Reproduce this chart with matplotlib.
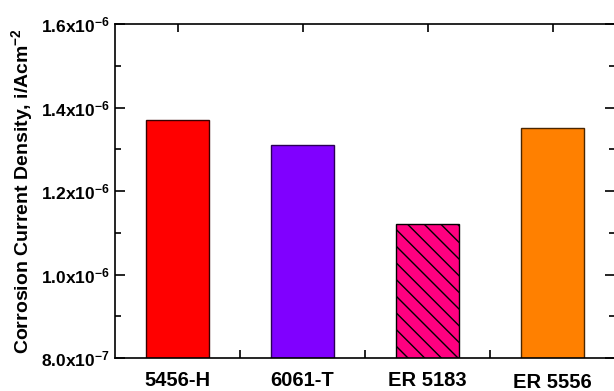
import numpy as np
import matplotlib
matplotlib.use("Agg")
import matplotlib.pyplot as plt
import matplotlib.transforms as mtransforms
from matplotlib.ticker import MultipleLocator, FixedLocator

# 数据
alloys = ["5456-H", "6061-T", "ER 5183", "ER 5556"]
icorr = [1.37e-6, 1.31e-6, 1.12e-6, 1.35e-6]
ytick_vals = [8.0e-7, 1.0e-6, 1.2e-6, 1.4e-6, 1.6e-6]
ytick_labels = [r"8.0x10$^{-7}$", r"1.0x10$^{-6}$", r"1.2x10$^{-6}$",
                r"1.4x10$^{-6}$", r"1.6x10$^{-6}$"]

face = ["#ff0000", "#8000ff", "#ff0080", "#ff8000"]
edge = ["#3a0000", "#2a0055", "#000000", "#4a2600"]
hatch = [None, None, "\\\\", None]

plt.rcParams["font.family"] = ["Liberation Sans", "DejaVu Sans"]
plt.rcParams["font.weight"] = "bold"
plt.rcParams["mathtext.fontset"] = "custom"
plt.rcParams["mathtext.rm"] = "Liberation Sans:bold"
plt.rcParams["mathtext.bf"] = "Liberation Sans:bold"
plt.rcParams["mathtext.default"] = "bf"
plt.rcParams["hatch.linewidth"] = 1.0

fig = plt.figure(figsize=(6.14, 3.91), dpi=100)
ax = fig.add_axes([115 / 614, 33 / 391, 500 / 614, 334 / 391])

x = np.arange(1, len(alloys) + 1)
for i in range(len(alloys)):
    ax.bar(x[i], icorr[i], width=0.5, color=face[i], edgecolor=edge[i],
           linewidth=1.0, hatch=hatch[i], zorder=2)

ax.set_xlim(0.5, 4.5)
ax.set_ylim(8.0e-7, 1.6e-6)

ax.set_xticks(x)
ax.set_xticklabels(alloys, fontsize=14.5, fontweight="bold")
ax.xaxis.set_minor_locator(FixedLocator([1.5, 2.5, 3.5]))
ax.set_yticks(ytick_vals)
ax.set_yticklabels(ytick_labels, fontsize=12.5)
ax.yaxis.set_minor_locator(MultipleLocator(1.0e-7))

ax.tick_params(axis="x", which="major", direction="in", length=6, width=1.2,
               top=True, bottom=True, pad=9)
ax.tick_params(axis="x", which="minor", direction="in", length=6, width=1.2,
               top=False, bottom=True)
ax.tick_params(axis="y", which="major", direction="in", length=7, width=1.2,
               left=True, right=True, pad=4)
ax.tick_params(axis="y", which="minor", direction="in", length=4, width=1.2,
               left=True, right=True)

# 最后一个标签略低
lab = ax.get_xticklabels()[-1]
lab.set_transform(lab.get_transform() +
                  mtransforms.ScaledTranslation(0, -3 / 100, fig.dpi_scale_trans))

for s in ax.spines.values():
    s.set_linewidth(1.2)

ax.set_ylabel(r"Corrosion Current Density, i/Acm$^{-2}$", fontsize=14,
              fontweight="bold", labelpad=4)

fig.savefig("out.png", dpi=100)
